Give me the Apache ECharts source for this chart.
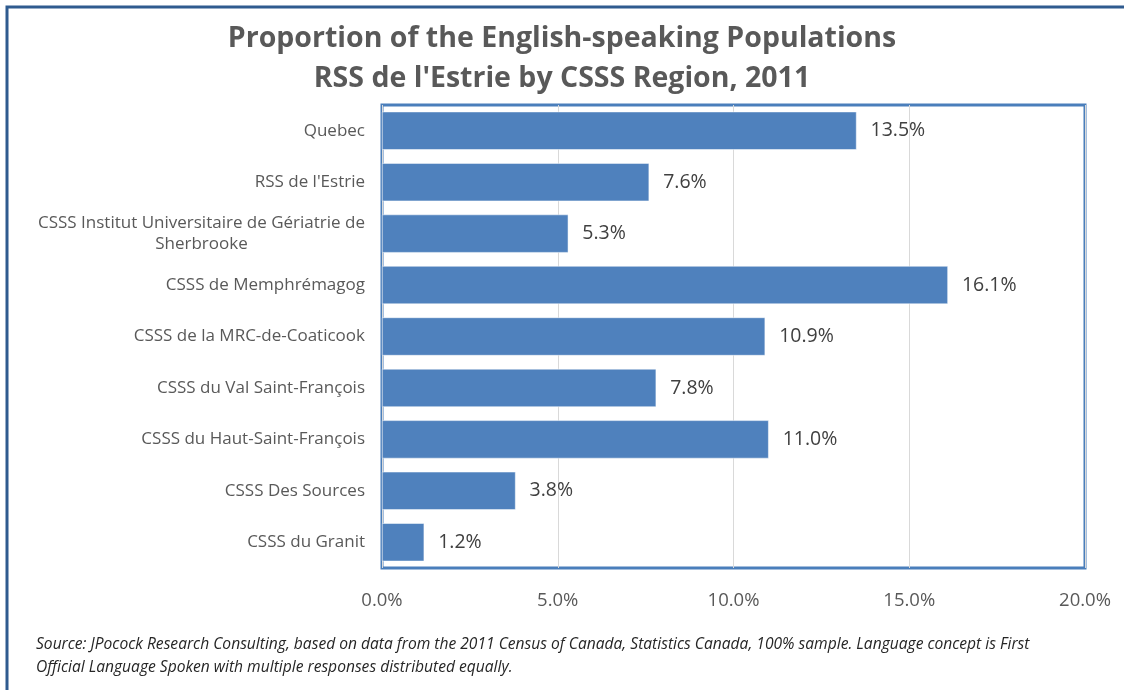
<!DOCTYPE html>
<html>
<head>
<meta charset="utf-8">
<script src="https://cdn.jsdelivr.net/npm/echarts@6/dist/echarts.min.js"></script>
<style>
  html, body { margin: 0; padding: 0; background: #ffffff; }
  #chart { width: 1124px; height: 690px; }
</style>
</head>
<body>
<div id="chart"></div>
<script>
// Regions of the RSS de l'Estrie, top to bottom
const regions = [
  'Quebec',
  "RSS de l'Estrie",
  'CSSS Institut Universitaire de Gériatrie de\nSherbrooke',
  'CSSS de Memphrémagog',
  'CSSS de la MRC-de-Coaticook',
  'CSSS du Val Saint-François',
  'CSSS du Haut-Saint-François',
  'CSSS Des Sources',
  'CSSS du Granit'
];
// Share of the population that is English-speaking (%)
const englishShare = [13.5, 7.6, 5.3, 16.1, 10.9, 7.8, 11.0, 3.8, 1.2];
// Value axis ticks (%)
const xTicks = [0, 5, 10, 15, 20];

const titleLines = [
  'Proportion of the English-speaking Populations',
  "RSS de l'Estrie by CSSS Region, 2011"
];
const sourceNote = [
  'Source: JPocock Research Consulting, based on data from the 2011 Census of Canada, Statistics Canada, 100% sample. Language concept is First',
  'Official Language Spoken with multiple responses distributed equally.'
];

const FONT = '"Open Sans", Lato, sans-serif';
const chart = echarts.init(document.getElementById('chart'));

chart.setOption({
  backgroundColor: '#ffffff',
  animation: false,
  title: {
    text: titleLines.join('\n'),
    left: 'center',
    top: 14,
    textStyle: {
      fontFamily: FONT,
      fontSize: 28.5,
      fontWeight: 'bold',
      color: '#595959',
      lineHeight: 40
    }
  },
  grid: {
    left: 382,
    right: 39,
    top: 105,
    bottom: 122,
    show: true,
    borderColor: '#4a7ebb',
    borderWidth: 3,
    containLabel: false
  },
  xAxis: {
    type: 'value',
    min: xTicks[0],
    max: xTicks[xTicks.length - 1],
    interval: xTicks[1] - xTicks[0],
    axisLine: { show: false },
    axisTick: { show: false },
    splitLine: { show: true, lineStyle: { color: '#d9d9d9', width: 1 } },
    axisLabel: {
      margin: 23,
      fontFamily: FONT,
      fontSize: 18.5,
      color: '#595959',
      formatter: v => v.toFixed(1) + '%'
    }
  },
  yAxis: {
    type: 'category',
    data: regions,
    inverse: true,
    axisLine: { show: false },
    axisTick: { show: false },
    axisLabel: {
      margin: 17,
      fontFamily: FONT,
      fontSize: 17,
      color: '#595959',
      formatter: v => v.split('\n').map(s => '{c|' + s + '}').join('\n'),
      rich: {
        c: { align: 'center', fontFamily: FONT, fontSize: 17, color: '#595959', lineHeight: 21 }
      }
    }
  },
  series: [{
    type: 'bar',
    data: englishShare,
    barCategoryGap: '26%',
    itemStyle: { color: '#4f81bd', borderColor: '#ffffff', borderWidth: 0.5 },
    label: {
      show: true,
      position: 'right',
      distance: 14,
      fontFamily: FONT,
      fontSize: 19.5,
      color: '#404040',
      formatter: p => p.value.toFixed(1) + '%'
    }
  }],
  graphic: [
    {
      type: 'rect',
      shape: { x: 7, y: 7, width: 1300, height: 900 },
      style: { fill: 'none', stroke: '#2f5b8f', lineWidth: 3 },
      silent: true
    },
    {
      type: 'text',
      left: 36,
      top: 633,
      style: {
        text: sourceNote.join('\n'),
        fontFamily: FONT,
        fontStyle: 'italic',
        fontSize: 15.6,
        lineHeight: 23,
        fill: '#262626'
      }
    }
  ]
});
</script>
</body>
</html>
